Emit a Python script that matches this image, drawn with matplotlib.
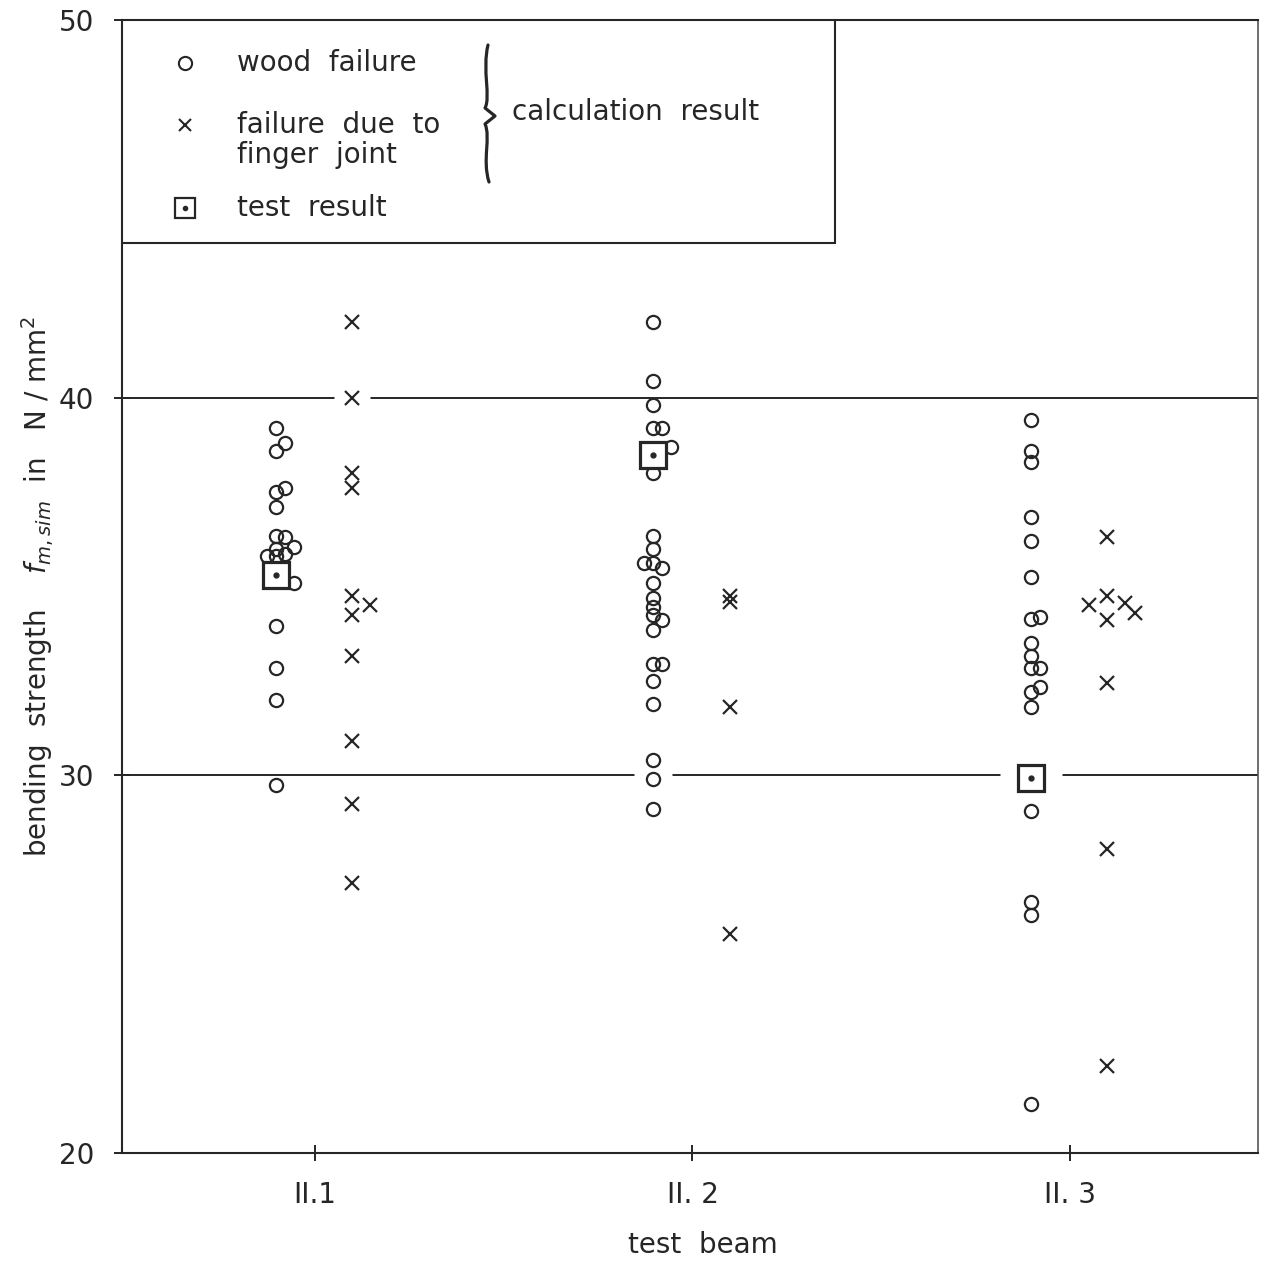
import numpy as np
import matplotlib
matplotlib.use("Agg")
import matplotlib.pyplot as plt
from matplotlib.path import Path
from matplotlib.patches import PathPatch, Rectangle

# ---------------------------------------------------------------------------
# data (bending strength in N/mm^2)
# shift = small sideways nudge (in marker steps) used in the original to
# keep overlapping symbols visible
# ---------------------------------------------------------------------------
beams = ['II.1', 'II. 2', 'II. 3']

wood_11 = [39.2, 38.8, 38.6, 37.6, 37.5, 37.1, 36.35, 36.3, 36.05, 36.0,
           35.85, 35.8, 35.8, 35.1, 33.95, 32.85, 32.0, 29.75]
wood_11_shift = [0, 1, 0, 1, 0, 0, 0, 1, 2, 0, 1, 0, -1, 2, 0, 0, 0, 0]

wood_12 = [42.0, 40.45, 39.8, 39.2, 39.2, 38.7, 38.0, 36.35, 36.0, 35.62,
           35.62, 35.5, 35.1, 34.7, 34.45, 34.25, 34.1, 33.85, 32.95, 32.95,
           32.5, 31.9, 30.4, 29.9, 29.1]
wood_12_shift = [0, 0, 0, 0, 1, 2, 0, 0, 0, -1, 0, 1, 0, 0, 0, 0, 1, 0, 0, 1,
                 0, 0, 0, 0, 0]

wood_13 = [39.4, 38.6, 38.3, 36.85, 36.2, 35.25, 34.15, 34.2, 33.5, 33.15,
           32.85, 32.85, 32.2, 32.35, 31.8, 29.05, 26.65, 26.3, 21.3]
wood_13_shift = [0, 0, 0, 0, 0, 0, 0, 1, 0, 0, 0, 1, 0, 1, 0, 0, 0, 0, 0]

finger_11 = [42.0, 40.0, 38.0, 37.6, 34.75, 34.5, 34.25, 33.15, 30.9, 29.25, 27.15]
finger_11_shift = [0, 0, 0, 0, 0, 2, 0, 0, 0, 0, 0]

finger_12 = [34.75, 34.6, 31.8, 25.8]
finger_12_shift = [0, 0, 0, 0]

finger_13 = [36.3, 34.75, 34.5, 34.55, 34.3, 34.1, 32.45, 28.05, 22.3]
finger_13_shift = [0, 0, -2, 2, 3, 0, 0, 0, 0]

test_result = [35.3, 38.47, 29.92]

wood = [wood_11, wood_12, wood_13]
wood_shift = [wood_11_shift, wood_12_shift, wood_13_shift]
finger = [finger_11, finger_12, finger_13]
finger_shift = [finger_11_shift, finger_12_shift, finger_13_shift]

grid_levels = [30, 40]

# ---------------------------------------------------------------------------
INK = '#262626'
plt.rcParams['font.family'] = ['DejaVu Sans']
plt.rcParams['mathtext.fontset'] = 'dejavusans'

W, H = 1261, 1266
fig = plt.figure(figsize=(W / 100, H / 100), dpi=100)
AX_L, AX_R, AX_T, AX_B = 122, 1258, 20, 1153
ax = fig.add_axes([AX_L / W, 1 - AX_B / H, (AX_R - AX_L) / W, (AX_B - AX_T) / H])


def px(x, y):
    """pixel position in the picture -> axes fraction (for the key box)"""
    return (x - AX_L) / (AX_R - AX_L), (AX_B - y) / (AX_B - AX_T)


x_pos = np.arange(1, len(beams) + 1)
wood_off, finger_off, step = -0.104, 0.099, 0.024

# gridlines at 30 and 40
for lvl in grid_levels:
    ax.axhline(lvl, color=INK, lw=1.4, zorder=1)

# white halos break the gridlines where a symbol sits on them
for i, xc in enumerate(x_pos):
    groups = [(wood[i], wood_shift[i], wood_off, 28),
              (finger[i], finger_shift[i], finger_off, 26),
              ([test_result[i]], [0], wood_off, 44)]
    for vals, sh, off, hs in groups:
        for v, s in zip(vals, sh):
            if min(abs(v - g) for g in grid_levels) < 0.15:
                ax.plot(xc + off + s * step, v, marker='s', ms=hs, color='white',
                        mec='none', ls='none', zorder=2)

for i, xc in enumerate(x_pos):
    xw = xc + wood_off + step * np.array(wood_shift[i])
    ax.plot(xw, wood[i], ls='none', marker='o', ms=9.5, mfc='none', mec=INK,
            mew=1.6, zorder=3)
    xf = xc + finger_off + step * np.array(finger_shift[i])
    ax.plot(xf, finger[i], ls='none', marker='x', ms=10, mec=INK, mew=1.6, zorder=3)
    # test result: square with a dot
    ax.plot(xc + wood_off, test_result[i], ls='none', marker='s', ms=19,
            mfc='white', mec=INK, mew=2.3, zorder=4)
    ax.plot(xc + wood_off, test_result[i], ls='none', marker='o', ms=3.5,
            color=INK, zorder=5)

ax.set_xlim(0.489, 3.498)
ax.set_ylim(20, 50)
ax.set_xticks(x_pos)
ax.set_xticklabels(beams)
ax.set_yticks([20, 30, 40, 50])
ax.tick_params(axis='both', direction='inout', length=12, width=1.4, colors=INK,
               labelsize=20, pad=14)

for sp in ax.spines.values():
    sp.set_color(INK)
    sp.set_linewidth(1.5)
ax.spines['right'].set_color('#555555')
ax.spines['right'].set_linewidth(1.2)

ax.set_ylabel(r'bending  strength    $f_{m,sim}$  in   N / mm$^2$', fontsize=20,
              color=INK, va='center')
ax.yaxis.set_label_coords(-0.074, 0.5)
ax.set_xlabel('test  beam', fontsize=20, color=INK, va='center')
ax.xaxis.set_label_coords((703 - AX_L) / (AX_R - AX_L), (AX_B - 1245) / (AX_B - AX_T))

# ---------------------------------------------------------------------------
# hand drawn key box in the upper left corner
# ---------------------------------------------------------------------------
x0, y0 = px(122, 243)
x1, y1 = px(835, 20)
ax.add_patch(Rectangle((x0, y0), x1 - x0, y1 - y0, transform=ax.transAxes,
                       fill=True, fc='white', ec=INK, lw=1.5, zorder=6))

ax.plot(*px(185, 63), marker='o', ms=9.5, mfc='none', mec=INK, mew=1.5,
        transform=ax.transAxes, zorder=7)
ax.plot(*px(185, 125), marker='x', ms=9, mec=INK, mew=1.5,
        transform=ax.transAxes, zorder=7)
ax.plot(*px(185, 208), marker='s', ms=15, mfc='white', mec=INK, mew=1.6,
        transform=ax.transAxes, zorder=7)
ax.plot(*px(185, 208), marker='o', ms=3, color=INK, transform=ax.transAxes, zorder=8)

key_texts = [('wood  failure', 237, 63),
             ('failure  due  to', 237, 125),
             ('finger  joint', 237, 155),
             ('test  result', 237, 208),
             ('calculation  result', 512, 112)]
for txt, tx, ty in key_texts:
    ax.text(*px(tx, ty), txt, transform=ax.transAxes, fontsize=20, color=INK,
            ha='left', va='center', zorder=7)

# curly brace
brace_px = [(488, 45), (482, 70), (491, 97), (485, 108), (495, 116), (485, 124),
            (491, 137), (482, 160), (489, 182)]
codes = [Path.MOVETO, Path.CURVE4, Path.CURVE4, Path.CURVE4, Path.LINETO,
         Path.LINETO, Path.CURVE4, Path.CURVE4, Path.CURVE4]
brace = Path([px(*p) for p in brace_px], codes)
ax.add_patch(PathPatch(brace, transform=ax.transAxes, fc='none', ec=INK, lw=2.3,
                       capstyle='round', joinstyle='round', zorder=7))

fig.savefig('out.png', dpi=100)
